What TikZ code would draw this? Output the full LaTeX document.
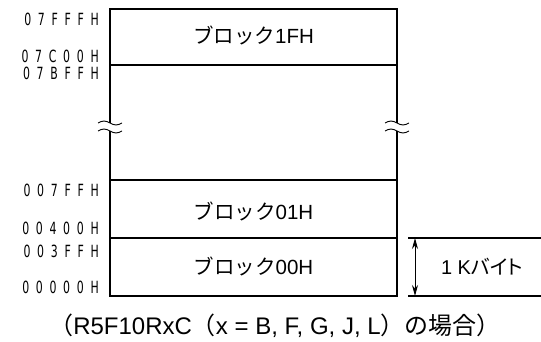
\documentclass[tikz,border=0pt]{standalone}
\usepackage{fontspec}
\setmainfont{Liberation Sans}
\newfontfamily\jp{Noto Sans CJK JP}
\newfontfamily\jpp[RawFeature=+palt]{Noto Sans CJK JP}
\newfontfamily\addrfont[FakeStretch=0.65,LetterSpace=40]{DejaVu Sans}
\usetikzlibrary{arrows.meta}
\tikzset{
  outer/.style={line width=2pt},
  inner/.style={line width=1.2pt},
  addr/.style={anchor=east,inner sep=0pt,font=\addrfont\fontsize{16.8}{16.8}\selectfont},
  blk/.style={inner sep=0pt,font=\fontsize{20.5}{22}\selectfont},
  brk/.style={line width=0.9pt},
}
\begin{document}
\begin{tikzpicture}[x=1pt,y=-1pt]
\useasboundingbox (0,0) rectangle (541,342);
% outer box corners
\coordinate (tl) at (110,9);
\coordinate (tr) at (397,9);
\coordinate (bl) at (110,296);
\coordinate (br) at (397,296);
\coordinate (lb1) at (110,123);
\coordinate (lb2) at (110,131);
\coordinate (rb1) at (397,123);
\coordinate (rb2) at (397,131);
\draw[outer] (lb1) -- (tl) -- (tr) -- (rb1);
\draw[outer] (lb2) -- (bl) -- (br) -- (rb2);
% break marks
\foreach \c in {lb1,rb1,lb2,rb2}{
  \draw[brk] ([xshift=-12pt]\c) sin ([xshift=-6pt,yshift=2pt]\c) cos (\c) sin ([xshift=6pt,yshift=-2pt]\c) cos ([xshift=12pt]\c);
}
% inner lines
\coordinate (l1) at (110,65);  \coordinate (r1) at (397,65);
\coordinate (l2) at (110,180); \coordinate (r2) at (397,180);
\coordinate (l3) at (110,238); \coordinate (r3) at (397,238);
\draw[inner] (l1) -- (r1);
\draw[inner] (l2) -- (r2);
\draw[inner] (l3) -- (r3);
% block labels
\node[blk] (b1f) at (253.5,35) {{\jp ブロック}1FH};
\node[blk] (b01) at (253.5,211) {{\jp ブロック}01H};
\node[blk] (b00) at (253.5,266) {{\jp ブロック}00H};
% addresses
\node[addr] (a1) at (99,19) {07FFFH};
\node[addr] (a2) at (99,56.5) {07C00H};
\node[addr] (a3) at (99,73.5) {07BFFH};
\node[addr] (a4) at (99,190) {007FFH};
\node[addr] (a5) at (99,228) {00400H};
\node[addr] (a6) at (99,251) {003FFH};
\node[addr] (a7) at (99,287) {00000H};
% size indicator
\coordinate (s1) at (408,238); \coordinate (s1e) at (541,238);
\coordinate (s2) at (408,296); \coordinate (s2e) at (541,296);
\draw[inner] (s1) -- (s1e);
\draw[inner] (s2) -- (s2e);
\coordinate (ar1) at (415,238); \coordinate (ar2) at (415,296);
\draw[line width=1pt,{Stealth[length=11pt,width=6pt]}-{Stealth[length=11pt,width=6pt]}] (ar1) -- (ar2);
\node[blk,font=\fontsize{20}{22}\selectfont] (kb) at (482,267) {1 K{\jpp バイト}};
% caption
\node[inner sep=0pt,font=\fontsize{24}{26}\selectfont] (cap) at (275,326) {{\jp （}R5F10RxC{\jp （}x = B, F, G, J, L{\jp ）の場合）}};
\end{tikzpicture}
\end{document}
